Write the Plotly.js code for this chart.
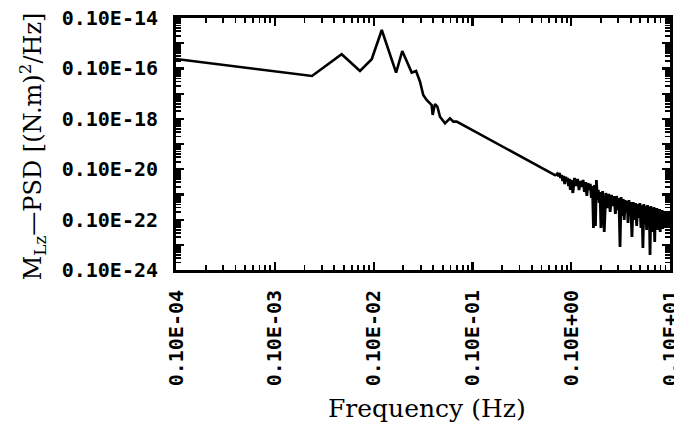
<!DOCTYPE html>
<html><head><meta charset="utf-8">
<script src="https://cdn.plot.ly/plotly-3.0.1.min.js"></script>
<style>html,body{margin:0;padding:0;background:#fff}#chart{width:674px;height:422px}</style>
</head><body><div id="chart"></div><script>
// Low-frequency (resonant) part of the spectrum
const freqLow = [1e-5, 2.38e-4, 4.75e-4, 7.28e-4, 9.57e-4, 1.21e-3, 1.69e-3, 1.95e-3, 2.43e-3, 2.69e-3,
  2.95e-3, 3.18e-3, 3.44e-3, 3.87e-3, 3.96e-3, 4.18e-3, 4.42e-3, 4.70e-3, 5.28e-3, 5.93e-3,
  6.41e-3, 6.93e-3, 0.010, 0.014, 0.020, 0.030, 0.040, 0.050, 0.060, 0.070];
const psdLow = [2.36e-17, 4.99e-18, 3.63e-17, 7.9e-18, 2.3e-17, 3.34e-16, 6.76e-18, 4.9e-17, 6.8e-18, 7.9e-18,
  2.97e-18, 8.8e-19, 5.57e-19, 3.53e-19, 1.42e-19, 3.87e-19, 3.02e-19, 1.21e-19, 6.6e-20, 1.05e-19,
  7.7e-20, 7.7e-20, 3.53e-20, 1.73e-20, 8.1e-21, 3.4e-21, 1.85e-21, 1.16e-21, 7.74e-22, 5.6e-22];

// High-frequency (noisy) part of the spectrum
const freqHigh = [0.072,0.074,0.076,0.078,0.080,0.082,0.084,0.086,0.088,0.090,0.092,0.094,0.096,0.098,0.100,
  0.104,0.108,0.112,0.116,0.120,0.124,0.128,0.132,0.136,0.140,0.144,0.148,0.152,0.156,0.160,0.164,0.168,0.172,0.176,0.180,0.184,0.188,0.192,0.196,0.200,
  0.208,0.216,0.224,0.232,0.240,0.248,0.256,0.264,0.272,0.280,0.288,0.296,0.304,0.312,0.320,0.328,0.336,0.344,0.352,0.360,0.368,0.376,0.384,0.392,0.400,
  0.412,0.424,0.436,0.448,0.460,0.472,0.484,0.496,0.508,0.520,0.532,0.544,0.556,0.568,0.580,0.592,0.604,0.616,0.628,0.640,
  0.652,0.664,0.676,0.688,0.700,0.712,0.724,0.736,0.748,0.760,0.772,0.784,0.796,0.808,0.820,0.832,0.844,0.856,0.868,0.880,
  0.892,0.904,0.916,0.928,0.940,0.952,0.964,0.976,0.988,1.000];
const psdHigh = [6.45e-22,5.37e-22,7.07e-22,4.48e-22,5.88e-22,3.40e-22,5.37e-22,2.59e-22,4.9e-22,3.73e-22,4.48e-22,2.16e-22,4.09e-22,1.50e-22,3.73e-22,
  1.14e-22,4.48e-22,2.16e-22,4.09e-22,1.50e-22,3.40e-22,1.97e-22,3.73e-22,1.25e-22,3.10e-22,8.65e-23,2.83e-22,1.50e-22,2.59e-22,7.20e-23,2.16e-22,4.64e-24,2.37e-22,5.57e-24,3.73e-22,6.00e-23,1.50e-22,4.56e-23,1.25e-22,4.64e-24,
  1.37e-22,3.22e-24,1.14e-22,2.88e-23,1.04e-22,2.00e-23,9.5e-23,3.46e-23,8.65e-23,1.67e-23,8.65e-23,2.40e-23,7.20e-23,8.18e-25,7.9e-23,1.39e-23,6.57e-23,9.64e-24,6.00e-23,2.00e-23,5.47e-23,7.33e-24,6.00e-23,1.39e-23,4.99e-23,
  2.04e-24,4.99e-23,9.64e-24,4.56e-23,5.57e-24,4.16e-23,1.16e-23,4.56e-23,4.64e-24,3.79e-23,7.46e-25,4.16e-23,6.69e-24,3.46e-23,3.87e-24,3.79e-23,8.03e-24,3.16e-23,3.94e-25,3.46e-23,
  4.64e-24,2.88e-23,3.22e-24,3.16e-23,1.29e-24,2.63e-23,5.57e-24,2.88e-23,3.87e-24,2.40e-23,6.69e-24,2.63e-23,3.22e-24,2.19e-23,5.57e-24,2.40e-23,4.24e-24,2.00e-23,6.69e-24,2.19e-23,
  4.64e-24,1.83e-23,8.03e-24,2.00e-23,5.57e-24,1.83e-23,9.64e-24,2.00e-23,6.69e-24,1.39e-23];

const xTickVals = [1e-5, 1e-4, 1e-3, 1e-2, 1e-1, 1];
const xTickText = ['0.10E-04', '0.10E-03', '0.10E-02', '0.10E-01', '0.10E+00', '0.10E+01'];
const yTickVals = [1e-25, 1e-24, 1e-23, 1e-22, 1e-21, 1e-20, 1e-19, 1e-18, 1e-17, 1e-16, 1e-15];
const yTickText = ['0.10E-24', '', '0.10E-22', '', '0.10E-20', '', '0.10E-18', '', '0.10E-16', '', '0.10E-14'];
const xRange = [-5, 0];
const yRange = [-25, -15];

// 2..9 sub-ticks between decades
function subTicks(vals) {
  const out = [];
  for (let i = 0; i < vals.length - 1; i++) for (let m = 2; m <= 9; m++) out.push(m * vals[i]);
  return out;
}
const xMinor = subTicks(xTickVals);
const yMinor = subTicks(yTickVals);

const tickFont = {family: 'DejaVu Sans Mono', size: 20, color: '#000', weight: 'bold'};

const traceLow = {
  x: freqLow, y: psdLow,
  type: 'scatter', mode: 'lines',
  line: {color: '#000', width: 2.6},
  hoverinfo: 'skip'
};
const traceHigh = {
  x: [freqLow[freqLow.length - 1]].concat(freqHigh),
  y: [psdLow[psdLow.length - 1]].concat(psdHigh),
  type: 'scatter', mode: 'lines',
  line: {color: '#000', width: 2.8},
  hoverinfo: 'skip'
};

const axisCommon = {
  type: 'log', tickmode: 'array', tickfont: tickFont,
  ticks: 'inside', ticklen: 8, tickwidth: 2.2, tickcolor: '#000',
  ticklabeloverflow: 'allow',
  minor: {tickmode: 'array', ticks: 'inside', ticklen: 5, tickwidth: 1.8, tickcolor: '#000', showgrid: false},
  showline: true, linewidth: 3, linecolor: '#000', mirror: 'ticks',
  showgrid: false, zeroline: false, layer: 'above traces'
};

const layout = {
  width: 674, height: 422,
  margin: {l: 176, r: 4, t: 18, b: 152},
  paper_bgcolor: '#fff', plot_bgcolor: 'rgba(0,0,0,0)',
  showlegend: false,
  xaxis: Object.assign({}, axisCommon, {
    range: xRange, tickvals: xTickVals, ticktext: xTickText, tickangle: -90,
    ticklabelstandoff: 9,
    minor: Object.assign({}, axisCommon.minor, {tickvals: xMinor})
  }),
  yaxis: Object.assign({}, axisCommon, {
    range: yRange, tickvals: yTickVals, ticktext: yTickText,
    ticklabelstandoff: 11,
    minor: Object.assign({}, axisCommon.minor, {tickvals: yMinor})
  }),
  annotations: [
    {text: 'Frequency (Hz)', xref: 'paper', yref: 'paper', x: 0.508, y: -0.55,
     xanchor: 'center', yanchor: 'middle', showarrow: false,
     font: {family: 'DejaVu Serif', size: 25, color: '#000'}},
    {text: 'M<sub>Lz</sub>—PSD [(N.m)<sup>2</sup>/Hz]', xref: 'paper', yref: 'paper', x: -0.29, y: 0.49,
     xanchor: 'center', yanchor: 'middle', textangle: -90, showarrow: false,
     font: {family: 'DejaVu Serif', size: 24, color: '#000'}}
  ]
};

Plotly.newPlot('chart', [traceLow, traceHigh], layout, {staticPlot: true, displayModeBar: false});
</script></body></html>
